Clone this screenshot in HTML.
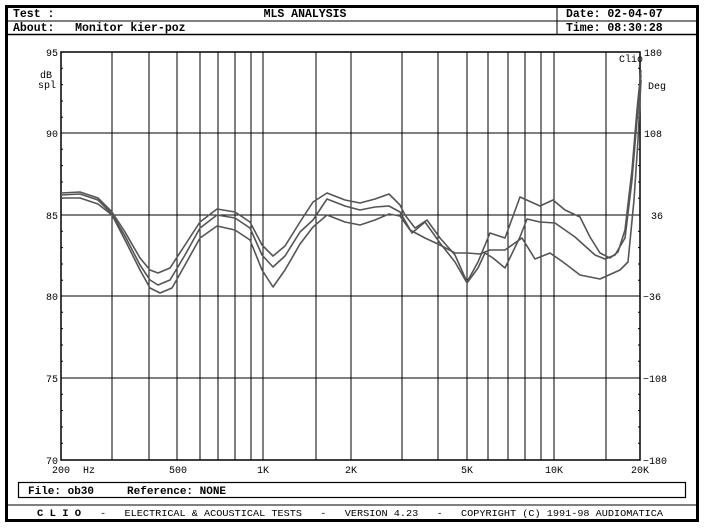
<!DOCTYPE html>
<html><head><style>
body{margin:0;background:#fff;}
svg{display:block;}
text{font-family:"Liberation Mono",monospace;white-space:pre;}
</style></head><body>
<svg width="705" height="528" viewBox="0 0 705 528" xmlns="http://www.w3.org/2000/svg" xml:space="preserve">
<rect x="0" y="0" width="705" height="528" fill="#fff"/>
<rect x="6.5" y="6.5" width="691" height="514" fill="none" stroke="#000" stroke-width="3"/>
<line x1="6" y1="21" x2="698" y2="21" stroke="#000" stroke-width="1"/>
<line x1="6" y1="34.5" x2="698" y2="34.5" stroke="#000" stroke-width="1.5"/>
<line x1="557" y1="6" x2="557" y2="34" stroke="#000" stroke-width="1"/>
<g font-size="11.5" font-weight="bold" fill="#000">
<text x="13" y="17">Test :</text>
<text x="305" y="17" text-anchor="middle">MLS ANALYSIS</text>
<text x="566" y="17">Date: 02-04-07</text>
<text x="13" y="31">About:   Monitor kier-poz</text>
<text x="566" y="31">Time: 08:30:28</text>
</g>
<g stroke="#000" stroke-width="1">
<line x1="61" y1="133" x2="640" y2="133"/>
<line x1="61" y1="215" x2="640" y2="215"/>
<line x1="61" y1="296" x2="640" y2="296"/>
<line x1="61" y1="378" x2="640" y2="378"/>
<line x1="112" y1="52" x2="112" y2="460"/>
<line x1="149" y1="52" x2="149" y2="460"/>
<line x1="177" y1="52" x2="177" y2="460"/>
<line x1="200" y1="52" x2="200" y2="460"/>
<line x1="218" y1="52" x2="218" y2="460"/>
<line x1="235" y1="52" x2="235" y2="460"/>
<line x1="251" y1="52" x2="251" y2="460"/>
<line x1="263" y1="52" x2="263" y2="460"/>
<line x1="316" y1="52" x2="316" y2="460"/>
<line x1="351" y1="52" x2="351" y2="460"/>
<line x1="402" y1="52" x2="402" y2="460"/>
<line x1="438" y1="52" x2="438" y2="460"/>
<line x1="467" y1="52" x2="467" y2="460"/>
<line x1="488" y1="52" x2="488" y2="460"/>
<line x1="508" y1="52" x2="508" y2="460"/>
<line x1="525" y1="52" x2="525" y2="460"/>
<line x1="541" y1="52" x2="541" y2="460"/>
<line x1="554" y1="52" x2="554" y2="460"/>
<line x1="606" y1="52" x2="606" y2="460"/>
</g>
<rect x="61" y="52" width="579" height="408" fill="none" stroke="#000" stroke-width="1.5"/>
<g stroke="#000" stroke-width="1">
<path d="M61 68.3h2M61 84.6h2M61 101h2M61 117.3h2M61 149.3h2M61 165.6h2M61 182h2M61 198.3h2M61 231.3h2M61 247.6h2M61 264h2M61 280.3h2M61 312.3h2M61 328.6h2M61 345h2M61 361.3h2M61 394.3h2M61 410.6h2M61 427h2M61 443.3h2"/>
<path d="M640 68.3h-2M640 84.6h-2M640 101h-2M640 117.3h-2M640 149.3h-2M640 165.6h-2M640 182h-2M640 198.3h-2M640 231.3h-2M640 247.6h-2M640 264h-2M640 280.3h-2M640 312.3h-2M640 328.6h-2M640 345h-2M640 361.3h-2M640 394.3h-2M640 410.6h-2M640 427h-2M640 443.3h-2"/>
</g>
<g fill="none" stroke="#555" stroke-width="1.6" stroke-linejoin="round">
<polyline points="61,193 80,192 98,198 112,212 125,232 140,258 150,270 158,273 170,268 185,245 200,222 217,209 235,212 250,222 262,245 273,256 285,246 300,222 313,202 327,193 345,200 360,203 375,199 389,194 400,205 405,215 415,228 427,220 440,238 455,255 467,282 478,262 490,233 505,238 520,197 540,206 553,200 565,210 580,217 590,237 600,253 610,258 618,252 625,230 632,170 637,110 641,70"/>
<polyline points="61,195 80,194 98,200 112,214 125,236 140,265 150,280 158,285 170,280 185,255 200,228 217,215 235,218 250,228 262,255 273,267 285,256 300,232 313,220 327,199 345,206 360,210 375,207 389,206 400,212 412,233 425,222 440,243 455,262 467,283 478,268 485,253 493,258 505,268 520,237 527,219 540,222 555,223 575,237 595,255 605,259 615,255 625,238 632,180 637,120 641,75"/>
<polyline points="61,198 80,198 98,204 112,215 125,240 140,270 150,288 160,293 172,288 185,265 200,238 217,226 235,230 250,240 262,270 273,287 285,270 300,244 313,227 327,215 345,222 360,225 375,220 389,214 400,216 410,230 425,238 440,245 455,253 467,253 480,254 490,250 505,250 522,238 535,259 550,253 563,262 580,275 600,279 620,270 628,262 634,200 638,140 641,80"/>
</g>
<g font-size="10" fill="#000" font-family="Liberation Sans, sans-serif">
<text x="58" y="56" text-anchor="end">95</text>
<text x="58" y="137" text-anchor="end">90</text>
<text x="58" y="219" text-anchor="end">85</text>
<text x="58" y="300" text-anchor="end">80</text>
<text x="58" y="382" text-anchor="end">75</text>
<text x="58" y="464" text-anchor="end">70</text>
<text x="40" y="78">dB</text>
<text x="38" y="88">spl</text>
<text x="644" y="56">180</text>
<text x="648" y="89">Deg</text>
<text x="644" y="137">108</text>
<text x="651" y="219">36</text>
<text x="643" y="300">−36</text>
<text x="643" y="382">−108</text>
<text x="643" y="464">−180</text>
<text x="619" y="62">Clio</text>
<text x="52" y="473">200</text>
<text x="83" y="473">Hz</text>
<text x="178" y="473" text-anchor="middle">500</text>
<text x="263" y="473" text-anchor="middle">1K</text>
<text x="351" y="473" text-anchor="middle">2K</text>
<text x="467" y="473" text-anchor="middle">5K</text>
<text x="554" y="473" text-anchor="middle">10K</text>
<text x="640" y="473" text-anchor="middle">20K</text>
</g>
<rect x="18.5" y="482.5" width="667" height="15" fill="none" stroke="#000" stroke-width="1.2"/>
<text x="28" y="494" font-size="11" font-weight="bold">File: ob30     Reference: NONE</text>
<line x1="6" y1="505" x2="698" y2="505" stroke="#000" stroke-width="1"/>
<text x="37" y="516" font-size="10.5" font-weight="bold">C L I O</text>
<text x="100" y="516" font-size="9.5" font-family="Liberation Sans, sans-serif" textLength="563" lengthAdjust="spacingAndGlyphs">-   ELECTRICAL &amp; ACOUSTICAL TESTS   -   VERSION 4.23   -   COPYRIGHT (C) 1991-98 AUDIOMATICA</text>
</svg>
</body></html>
